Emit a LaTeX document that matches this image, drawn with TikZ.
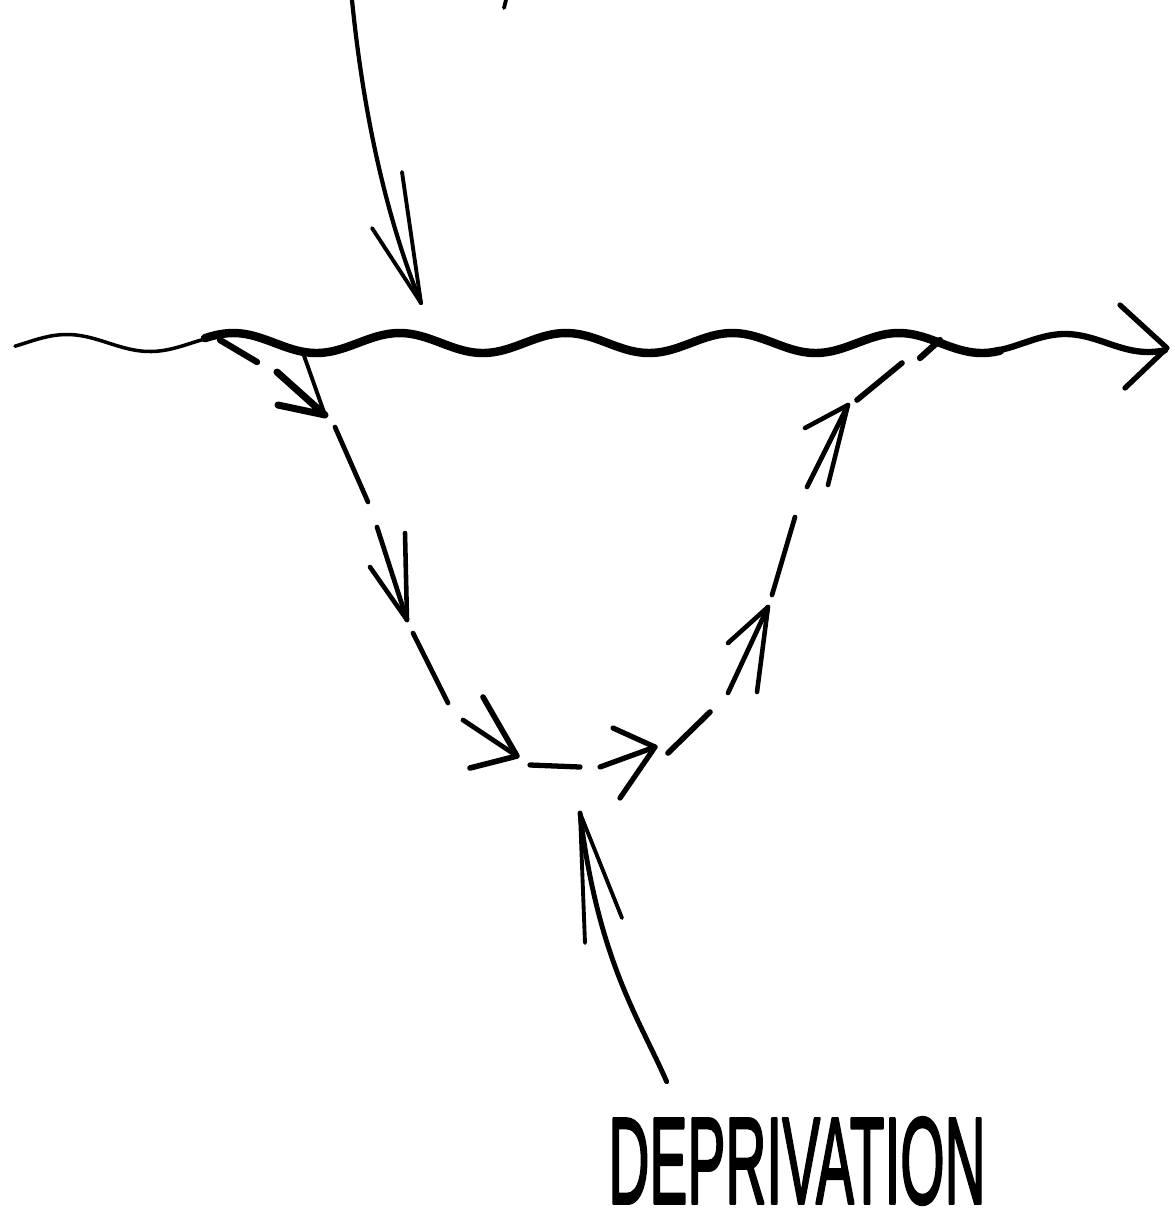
\documentclass[tikz,border=0pt]{standalone}
\usepackage{fontspec}
\setmainfont{Liberation Sans}
\newfontfamily\sketchfont[FakeBold=2.5]{Liberation Sans}
\usepackage{tikz}
\usetikzlibrary{calc}

\begin{document}
\begin{tikzpicture}[
  x=0.01cm,y=-0.01cm,
  line cap=round,line join=round,
  ink/.style={draw=black,line width=1.1pt},
  dashstroke/.style={ink,line width=1.35pt},
  barb/.style={ink,line width=1.3pt},
  wavethin/.style={ink,line width=1pt},
  wavethick/.style={ink,line width=2.4pt}
]
\fill[white] (0,0) rectangle (1175,1226);
\useasboundingbox (0,0) rectangle (1175,1226);

% label under the dip
\node[inner sep=0pt] (deprivation) at (797,1161)
  {\resizebox{3.77cm}{0.86cm}{\sketchfont DEPRIVATION}};

% arrow coming in from the top
\coordinate (topin) at (352,0);
\coordinate (hit) at (421,303);
\draw[ink,line width=1.2pt] (topin) .. controls (364,120) and (388,222) .. (hit);
\draw[barb,line width=1.1pt] (402,172) -- (hit) -- (372,228);
\draw[ink] (506,0) -- (504,8);

% wavy baseline
\draw[wavethin] plot[domain=15:212,samples=50] (\x,{343+8.5*cos(2.1635*(\x-150))});
\draw[wavethick] plot[domain=205:1000,samples=200] (\x,{343+10*cos(2.1635*(\x-150))});
\draw[ink,line width=1.8pt] plot[domain=995:1165,samples=50] (\x,{343+9*cos(2.1635*(\x-150))});
\draw[barb,line width=1.5pt] (1120,305) -- (1167,348) -- (1125,388);

% dashed dip, going down
\draw[ink,line width=1.8pt] (220,340) -- (257,362);
\draw[ink] (302,350) -- (325,415);
\draw[barb,line width=2pt] (277,372) -- (325,415) -- (278,405);
\draw[dashstroke] (335,427) -- (368,502);
\draw[dashstroke] (377,527) -- (407,620);
\draw[barb] (405,533) -- (407,620) -- (370,567);
\draw[dashstroke] (413,633) -- (448,703);
\draw[dashstroke] (463,720) -- (517,756);
\draw[barb,line width=1.6pt] (483,697) -- (517,756) -- (470,768);
% bottom
\draw[dashstroke,line width=1.5pt] (530,765) -- (580,767);
\draw[dashstroke,line width=1.5pt] (600,767) -- (655,747);
\draw[barb,line width=1.5pt] (613,728) -- (655,747) -- (620,798);
% going back up
\draw[dashstroke,line width=1.6pt] (668,753) -- (710,712);
\draw[dashstroke] (728,693) -- (768,607);
\draw[barb] (757,692) -- (768,607) -- (728,643);
\draw[dashstroke] (772,595) -- (795,517);
\draw[dashstroke] (807,487) -- (848,405);
\draw[barb] (828,485) -- (848,405) -- (805,428);
\draw[dashstroke,line width=1.6pt] (857,400) -- (902,363);
\draw[dashstroke,line width=1.8pt] (920,358) -- (940,340);

% pointer from the label
\coordinate (dip) at (580,813);
\draw[ink,line width=1.4pt] ($(deprivation.north west)+(59,-35)$)
  .. controls (640,1020) and (598,961) .. (dip);
\draw[barb,line width=1.1pt] (585,943) -- (dip) -- (622,918);
\end{tikzpicture}
\end{document}
